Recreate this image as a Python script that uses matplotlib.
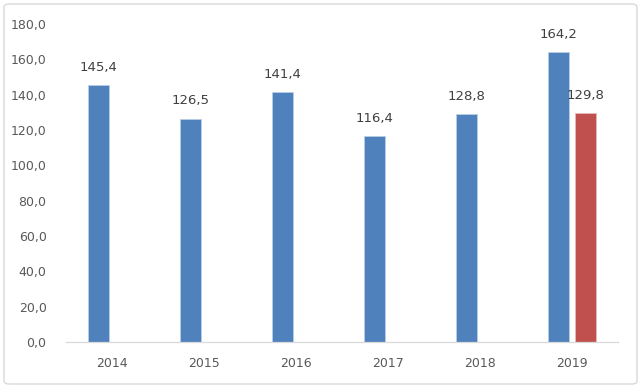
import numpy as np
import matplotlib.pyplot as plt
from matplotlib.patches import FancyBboxPatch

years = ["2014", "2015", "2016", "2017", "2018", "2019"]
series_a = [145.4, 126.5, 141.4, 116.4, 128.8, 164.2]
series_b = [None, None, None, None, None, 129.8]
y_ticks = [0, 20, 40, 60, 80, 100, 120, 140, 160, 180]

blue = "#4f81bd"
red = "#c0504d"
grey_text = "#595959"

fig = plt.figure(figsize=(6.42, 3.89), dpi=100)
ax = fig.add_axes([66 / 642, 1 - 342 / 389, 552 / 642, 318 / 389])

x = np.arange(len(years))
w = 0.228
off = 0.147

bars_a = ax.bar(x - off, series_a, width=w, color=blue, edgecolor="#b9cde5", linewidth=0.6)
b_idx = [i for i, v in enumerate(series_b) if v is not None]
b_vals = [series_b[i] for i in b_idx]
bars_b = ax.bar(x[b_idx] + off, b_vals, width=w, color=red, edgecolor="#e6b9b8", linewidth=0.6)

def fmt(v):
    return f"{v:.1f}".replace(".", ",")

for rect, v in zip(bars_a, series_a):
    ax.annotate(fmt(v), (rect.get_x() + rect.get_width() / 2, v), xytext=(0, 8),
                textcoords="offset points", ha="center", va="bottom",
                fontsize=9.5, color="#404040")
for rect, v in zip(bars_b, b_vals):
    ax.annotate(fmt(v), (rect.get_x() + rect.get_width() / 2, v), xytext=(0, 8),
                textcoords="offset points", ha="center", va="bottom",
                fontsize=9.5, color="#404040")

ax.set_xlim(-0.5, len(years) - 0.5)
ax.set_ylim(0, 180)
ax.set_xticks(x)
ax.set_xticklabels(years)
ax.set_yticks(y_ticks)
ax.set_yticklabels([fmt(t) for t in y_ticks])
ax.tick_params(axis="both", length=0, labelsize=9, colors=grey_text)
ax.tick_params(axis="y", pad=14)
ax.tick_params(axis="x", pad=11)

for s in ["top", "right", "left"]:
    ax.spines[s].set_visible(False)
ax.spines["bottom"].set_color("#d9d9d9")
ax.spines["bottom"].set_linewidth(0.9)

border = FancyBboxPatch((4 / 642, 5 / 389), 633 / 642, 380 / 389,
                        boxstyle="round,pad=0,rounding_size=0.008",
                        transform=fig.transFigure, fill=False,
                        edgecolor="#d9d9d9", linewidth=1.0)
fig.patches.append(border)

fig.savefig("out.png", dpi=100)
